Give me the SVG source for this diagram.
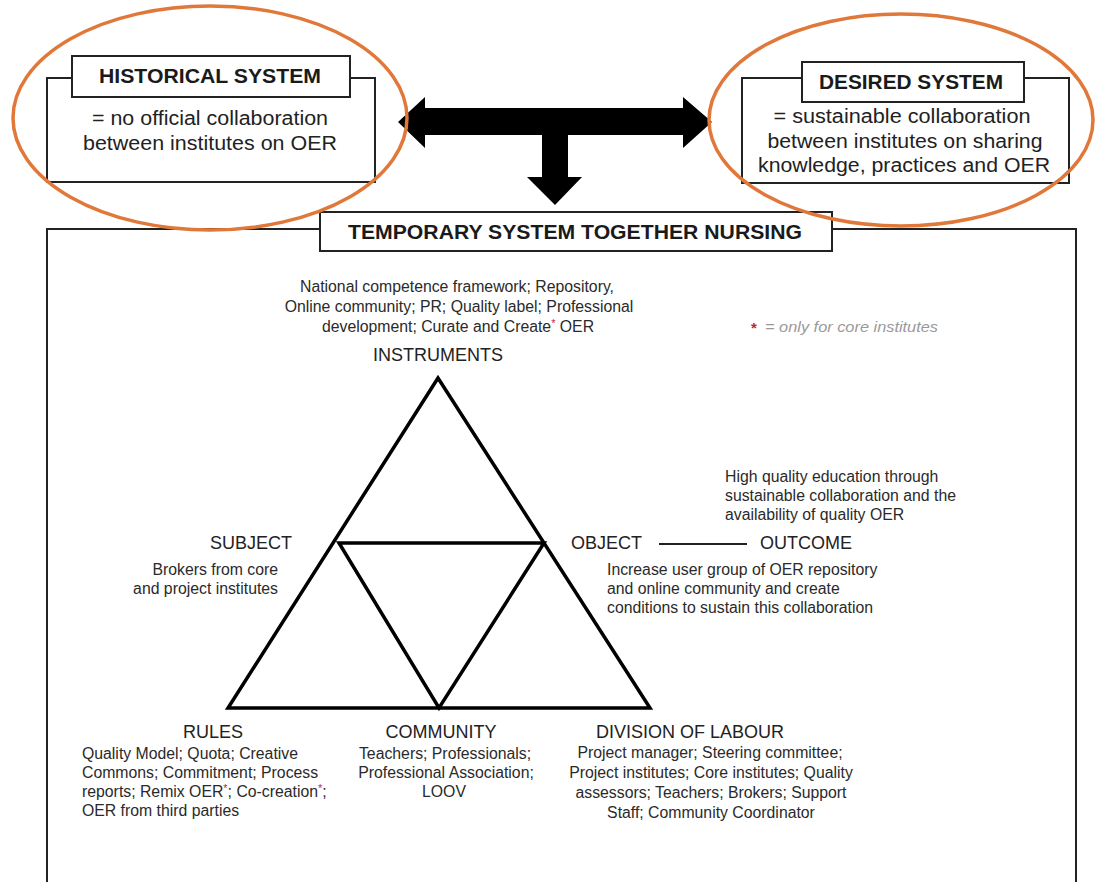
<svg xmlns="http://www.w3.org/2000/svg" width="1097" height="882" viewBox="0 0 1097 882">
<defs>
<style>
.box{fill:#fff;stroke:#222;stroke-width:2}
.hdr{font-family:"Liberation Sans",Arial,sans-serif;font-weight:bold;font-size:20px;fill:#1a1a1a;text-anchor:middle}
.big{font-family:"Liberation Sans",Arial,sans-serif;font-size:20px;fill:#222;text-anchor:middle}
.lbl{font-family:"Liberation Sans",Arial,sans-serif;font-size:18px;fill:#222}
.txt{font-family:"Liberation Sans",Arial,sans-serif;font-size:15.8px;fill:#2a2a2a}
.mid{text-anchor:middle}
.end{text-anchor:end}
.red{fill:#c0283a;font-size:11px}
.ring{fill:none;stroke:#E0783A;stroke-width:3.5}
.tri{fill:none;stroke:#000;stroke-width:3.5;stroke-linejoin:miter}
</style>
</defs>
<rect width="1097" height="882" fill="#fff"/>

<g id="temporary-system">
<rect class="box" x="47" y="229" width="1029" height="670"/>
<rect class="box" x="320" y="212" width="512" height="39"/>
<text class="hdr" x="575" y="239" textLength="454" lengthAdjust="spacingAndGlyphs">TEMPORARY SYSTEM TOGETHER NURSING</text>
</g>

<g id="historical-system">
<rect class="box" x="47" y="78" width="328" height="104"/>
<rect class="box" x="72" y="56" width="278" height="41"/>
<text class="hdr" x="210" y="83" textLength="222" lengthAdjust="spacingAndGlyphs">HISTORICAL SYSTEM</text>
<text class="big" x="210" y="125" textLength="236" lengthAdjust="spacingAndGlyphs">= no official collaboration</text>
<text class="big" x="210" y="150" textLength="254" lengthAdjust="spacingAndGlyphs">between institutes on OER</text>
</g>

<g id="desired-system">
<rect class="box" x="742" y="78" width="327" height="105"/>
<rect class="box" x="802" y="62" width="222" height="40"/>
<text class="hdr" x="911" y="89" textLength="184" lengthAdjust="spacingAndGlyphs">DESIRED SYSTEM</text>
<text class="big" x="902" y="123" textLength="257" lengthAdjust="spacingAndGlyphs">= sustainable collaboration</text>
<text class="big" x="905" y="148" textLength="275" lengthAdjust="spacingAndGlyphs">between institutes on sharing</text>
<text class="big" x="904" y="172" textLength="292" lengthAdjust="spacingAndGlyphs">knowledge, practices and OER</text>
</g>

<g id="connectors">
<polygon fill="#000" points="398,122 425,97 425,108 683,108 683,97 712,122 683,148 683,135 568,135 568,177 582,177 555,205 527,177 542,177 542,135 425,135 425,148"/>
<line x1="659" y1="544" x2="747" y2="544" stroke="#222" stroke-width="2"/>
</g>

<g id="triangle">
<polygon class="tri" points="438,378 228,708 650,708"/>
<polygon class="tri" points="339,543 544,543 439,708"/>
</g>

<g id="instruments">
<text class="txt mid" x="457" y="292">National competence framework; Repository,</text>
<text class="txt mid" x="459" y="312">Online community; PR; Quality label; Professional</text>
<text class="txt mid" x="458" y="332">development; Curate and Create<tspan class="red" dy="-5">*</tspan><tspan dy="5"> OER</tspan></text>
<text class="lbl mid" x="438" y="361">INSTRUMENTS</text>
</g>

<g id="legend">
<text x="751" y="333" font-family="'Liberation Sans',Arial,sans-serif" font-weight="bold" font-size="15px" fill="#c0283a">*</text>
<text x="765" y="332" font-family="'Liberation Sans',Arial,sans-serif" font-style="italic" font-size="15px" fill="#9a9a9a" textLength="173" lengthAdjust="spacingAndGlyphs">= only for core institutes</text>
</g>

<g id="subject">
<text class="lbl mid" x="251" y="549">SUBJECT</text>
<text class="txt end" x="278" y="575">Brokers from core</text>
<text class="txt end" x="278" y="594">and project institutes</text>
</g>

<g id="object">
<text class="lbl" x="571" y="549">OBJECT</text>
<text class="txt" x="607" y="575">Increase user group of OER repository</text>
<text class="txt" x="607" y="594">and online community and create</text>
<text class="txt" x="607" y="613">conditions to sustain this collaboration</text>
</g>

<g id="outcome">
<text class="lbl" x="760" y="549">OUTCOME</text>
<text class="txt" x="725" y="482">High quality education through</text>
<text class="txt" x="725" y="501">sustainable collaboration and the</text>
<text class="txt" x="725" y="520">availability of quality OER</text>
</g>

<g id="rules">
<text class="lbl mid" x="213" y="738">RULES</text>
<text class="txt" x="82" y="759">Quality Model; Quota; Creative</text>
<text class="txt" x="82" y="778">Commons; Commitment; Process</text>
<text class="txt" x="82" y="797">reports; Remix OER<tspan class="red" dy="-5">*</tspan><tspan dy="5">; Co-creation</tspan><tspan class="red" dy="-5">*</tspan><tspan dy="5">;</tspan></text>
<text class="txt" x="82" y="816">OER from third parties</text>
</g>

<g id="community">
<text class="lbl mid" x="441" y="738">COMMUNITY</text>
<text class="txt mid" x="445" y="759">Teachers; Professionals;</text>
<text class="txt mid" x="446" y="778">Professional Association;</text>
<text class="txt mid" x="444" y="797">LOOV</text>
</g>

<g id="division-of-labour">
<text class="lbl mid" x="690" y="738">DIVISION OF LABOUR</text>
<text class="txt mid" x="710" y="758">Project manager; Steering committee;</text>
<text class="txt mid" x="711" y="778">Project institutes; Core institutes; Quality</text>
<text class="txt mid" x="711" y="798">assessors; Teachers; Brokers; Support</text>
<text class="txt mid" x="711" y="818">Staff; Community Coordinator</text>
</g>

<g id="highlights">
<ellipse class="ring" cx="210" cy="118" rx="197" ry="112"/>
<ellipse class="ring" cx="901" cy="120" rx="192" ry="106"/>
</g>
</svg>
